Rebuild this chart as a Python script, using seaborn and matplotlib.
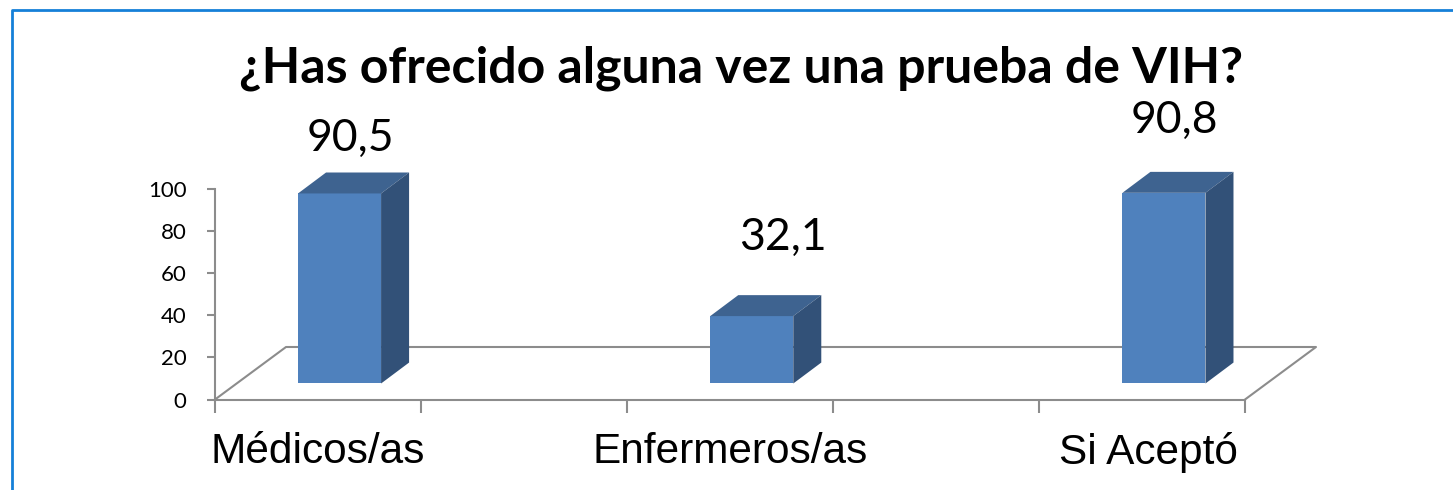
import matplotlib
matplotlib.use("Agg")
import matplotlib.pyplot as plt
from matplotlib.patches import Polygon
import seaborn as sns

# datos
title = "¿Has ofrecido alguna vez una prueba de VIH?"
categories = ["Médicos/as", "Enfermeros/as", "Si Aceptó"]
values = [90.5, 32.1, 90.8]
labels = ["90,5", "32,1", "90,8"]
order = ["Médicos/as", "", "Enfermeros/as", " ", "Si Aceptó"]
yticks = [0, 20, 40, 60, 80, 100]

W, H = 1453, 490
FRONT = "#4f81bd"
TOP = "#3e6390"
SIDE = "#325178"
GRIS = "#8c8c8c"
AZUL = "#1580d8"

sns.set_theme(style="white")
plt.rcParams["font.family"] = ["Lato", "DejaVu Sans"]


def box(x0, y_top, x1, y_bot):
    return [x0 / W, 1 - y_bot / H, (x1 - x0) / W, (y_bot - y_top) / H]


fig = plt.figure(figsize=(W / 100, H / 100), dpi=100, facecolor="white")

# marco azul (solo arriba e izquierda, como en el original)
fig.add_artist(plt.Line2D([11.5 / W, 11.5 / W, 1], [0, 1 - 10.5 / H, 1 - 10.5 / H],
                          transform=fig.transFigure, color=AZUL, lw=2.0))

# ejes principales: escala, ticks y suelo
ax = fig.add_axes(box(215, 189, 1245, 399.5))
ax.patch.set_alpha(0)
ax.set_xlim(-0.5, 4.5)
ax.set_ylim(0, 100)
for s in ["top", "right"]:
    ax.spines[s].set_visible(False)
for s in ["left", "bottom"]:
    ax.spines[s].set_color(GRIS)
    ax.spines[s].set_linewidth(1.5)
ax.set_xticks([-0.5, 0.5, 1.5, 2.5, 3.5, 4.5])
ax.set_xticklabels([])
ax.set_yticks(yticks)
ax.tick_params(axis="x", length=9.4, width=1.5, color=GRIS, bottom=True)
ax.tick_params(axis="y", length=6, width=1.5, color=GRIS, left=True, pad=14.5,
               labelsize=16, labelcolor="black")

# suelo del grafico 3D
sx = 71 / (1030 / 5)
sy = 52.5 / (210.5 / 100)
ax.plot([-0.5, -0.5 + sx, 4.5 + sx, 4.5], [0, sy, sy, 0], color=GRIS, lw=1.5, clip_on=False)

# etiquetas de categoria
for cat, xc in zip(categories, [318, 730, 1148]):
    fig.text(xc / W, 1 - 452 / H, cat, ha="center", va="center", fontsize=30.5,
             family=["Liberation Sans"], color="black")

# barras, desplazadas sobre el plano del suelo
ax2 = fig.add_axes(box(236.5, 173.5, 1267, 383.5))
ax2.patch.set_alpha(0)
sns.barplot(x=categories, y=values, order=order, color=FRONT, saturation=1,
            width=83 / 206, linewidth=0, ax=ax2)
ax2.set_xlim(-0.5, 4.5)
ax2.set_ylim(0, 100)
ax2.axis("off")

dx = 28 / (1030 / 5)
dy = 21 / (210.5 / 100)
bars = [b for b in ax2.patches if b.get_height() > 0]
for b in bars:
    x0, x1 = b.get_x(), b.get_x() + b.get_width()
    h = b.get_height()
    ax2.add_patch(Polygon([(x0, h), (x1, h), (x1 + dx, h + dy), (x0 + dx, h + dy)],
                          fc=TOP, ec="none", clip_on=False))
    ax2.add_patch(Polygon([(x1, 0), (x1 + dx, dy), (x1 + dx, h + dy), (x1, h)],
                          fc=SIDE, ec="none", clip_on=False))
    b.set_clip_on(False)

# etiquetas de valor
for lab, xc, yc in zip(labels, [350, 783, 1174], [138, 237, 120]):
    fig.text(xc / W, 1 - yc / H, lab, ha="center", va="center", fontsize=32, color="black")

fig.text(741 / W, 1 - 68 / H, title, ha="center", va="center", fontsize=36,
         fontweight="bold", color="black")

fig.savefig("out.png", dpi=100)
